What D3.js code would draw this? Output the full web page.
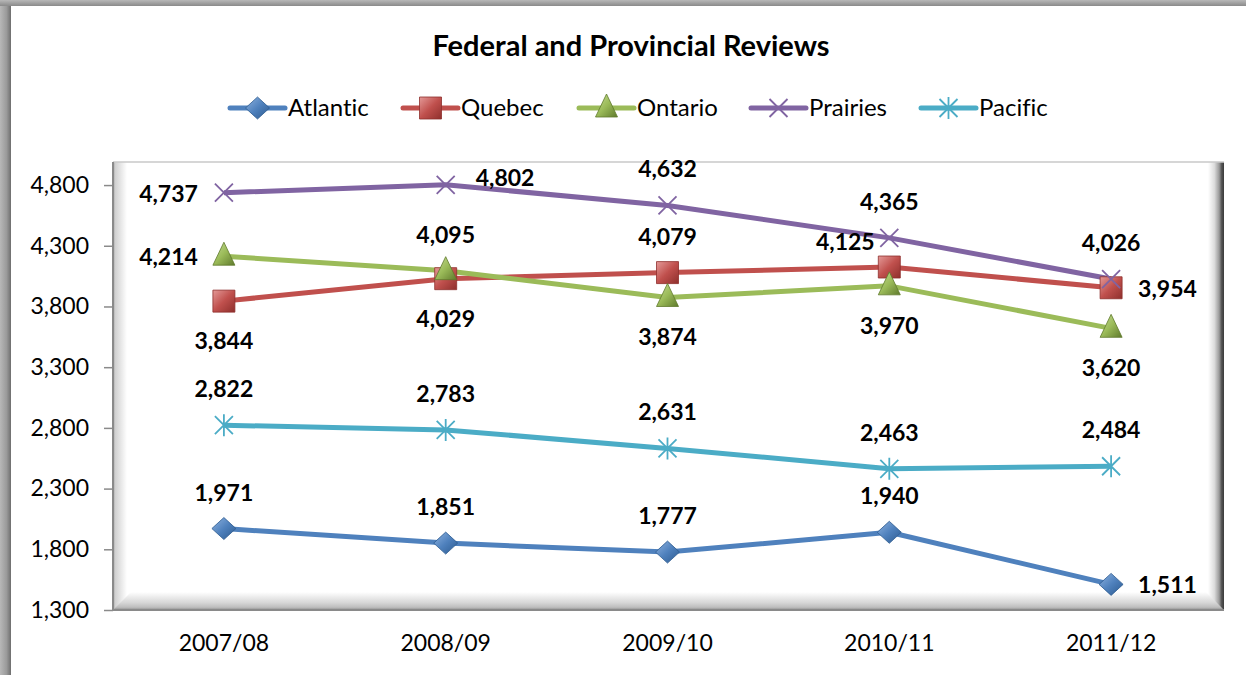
<!DOCTYPE html>
<html><head><meta charset="utf-8">
<script src="https://cdn.jsdelivr.net/npm/d3@7"></script>
<style>
html,body{margin:0;padding:0;background:#fff;}
svg{display:block;font-family:Lato,"Open Sans",sans-serif;font-variant-ligatures:none;}
text{font-variant-ligatures:none;font-feature-settings:"liga" 0,"clig" 0;}
</style></head>
<body><svg id="c" width="1246" height="675"></svg>
<script>
const categories = ["2007/08","2008/09","2009/10","2010/11","2011/12"];
const seriesNames = ["Atlantic","Quebec","Ontario","Prairies","Pacific"];
const atlantic = [1971,1851,1777,1940,1511];
const quebec   = [3844,4029,4079,4125,3954];
const ontario  = [4214,4095,3874,3970,3620];
const prairies = [4737,4802,4632,4365,4026];
const pacific  = [2822,2783,2631,2463,2484];
const yTicks = [1300,1800,2300,2800,3300,3800,4300,4800];
// label placement per point
const placeAtlantic = ["above","above","above","above","right"];
const placeQuebec   = ["below","below","above","aboveleft","right"];
const placeOntario  = ["left","above","below","below","below"];
const placePrairies = ["left","aboveright","above","above","above"];
const placePacific  = ["above","above","above","above","above"];

const colors = ["#4F81BD","#C0504D","#9BBB59","#8064A2","#4BACC6"];
const dark   = ["#2C5A8F","#8E2F2C","#5F7A2C","#5A427A","#2C8098"];
const light  = ["#8FB3E0","#E49A98","#C6DC97","#B3A0CC","#9ED6E5"];
const shapes = ["diamond","square","triangle","x","star"];

const series = seriesNames.map((n,i)=>({name:n, values:[atlantic,quebec,ontario,prairies,pacific][i],
  place:[placeAtlantic,placeQuebec,placeOntario,placePrairies,placePacific][i], color:colors[i], shape:shapes[i], idx:i}));

const svg = d3.select("#c");
const W=1246,H=675;
const L=113,R=1224,T=162,B=610;

const defs = svg.append("defs");
const gl = defs.append("linearGradient").attr("id","gLeft").attr("x1","0").attr("x2","1");
gl.append("stop").attr("offset","0").attr("stop-color","#b8b8b8");
gl.append("stop").attr("offset","0.6").attr("stop-color","#9a9a9a");
gl.append("stop").attr("offset","1").attr("stop-color","#6e6e6e");
const gt = defs.append("linearGradient").attr("id","gTop").attr("x1","0").attr("x2","0").attr("y1","0").attr("y2","1");
gt.append("stop").attr("offset","0").attr("stop-color","#b8b8b8");
gt.append("stop").attr("offset","1").attr("stop-color","#8a8a8a");
function lg(id,x1,y1,x2,y2,stops){const g=defs.append("linearGradient").attr("id",id).attr("x1",x1).attr("y1",y1).attr("x2",x2).attr("y2",y2);
  stops.forEach(s=>g.append("stop").attr("offset",s[0]).attr("stop-color",s[1]));}
lg("bLeft",0,0,1,0,[[0,"#9a9a9a"],[0.15,"#d0d0d0"],[1,"#ffffff"]]);
lg("bBottom",0,1,0,0,[[0,"#8c8c8c"],[0.15,"#bdbdbd"],[0.4,"#d6d6d6"],[1,"#ffffff"]]);
lg("bRight",1,0,0,0,[[0,"#3a3a3a"],[0.15,"#555"],[0.3,"#9a9a9a"],[0.6,"#dcdcdc"],[1,"#ffffff"]]);
colors.forEach((c,i)=>{
  const g=defs.append("linearGradient").attr("id","m"+i).attr("x1","0").attr("y1","0").attr("x2","1").attr("y2","1");
  g.append("stop").attr("offset","0").attr("stop-color",light[i]);
  g.append("stop").attr("offset","0.5").attr("stop-color",c);
  g.append("stop").attr("offset","1").attr("stop-color",dark[i]);
});

// outer chart border
svg.append("rect").attr("x",0).attr("y",0).attr("width",11).attr("height",H).attr("fill","url(#gLeft)");
svg.append("rect").attr("x",0).attr("y",0).attr("width",W).attr("height",6).attr("fill","url(#gTop)");
svg.append("rect").attr("x",11).attr("y",6).attr("width",W-11).attr("height",H-6).attr("fill","#fff");

// title
svg.append("text").attr("x",631).attr("y",56).attr("text-anchor","middle")
  .attr("font-size",29).attr("font-weight","bold").attr("fill","#000").text("Federal and Provincial Reviews");

// plot frame
svg.append("rect").attr("x",L).attr("y",T).attr("width",R-L).attr("height",B-T).attr("fill","#fff");
svg.append("rect").attr("x",L).attr("y",T).attr("width",14).attr("height",B-T).attr("fill","url(#bLeft)");
svg.append("rect").attr("x",R-16).attr("y",T).attr("width",16).attr("height",B-T).attr("fill","url(#bRight)");
svg.append("path").attr("d",`M${L},${B}L${L+18},${B-18}L${R-18},${B-18}L${R},${B}Z`).attr("fill","url(#bBottom)");
svg.append("line").attr("x1",L).attr("x2",R).attr("y1",T).attr("y2",T).attr("stroke","#c8c8c8").attr("stroke-width",1.5);
svg.append("line").attr("x1",L).attr("x2",L).attr("y1",T).attr("y2",B).attr("stroke","#8a8a8a").attr("stroke-width",2);
svg.append("line").attr("x1",L).attr("x2",R).attr("y1",B).attr("y2",B).attr("stroke","#8a8a8a").attr("stroke-width",2);

const x = d3.scaleBand().domain(categories).range([L,R-2]);
const cx = c => x(c)+x.bandwidth()/2;
const y = d3.scaleLinear().domain([1300,4990]).range([B,T]);

// y axis
const yAxis = svg.append("g").attr("transform",`translate(${L},0)`)
  .call(d3.axisLeft(y).tickValues(yTicks).tickFormat(d3.format(",")).tickSize(9).tickPadding(15));
yAxis.select(".domain").remove();
yAxis.selectAll(".tick line").attr("stroke","#8a8a8a").attr("stroke-width",1.5);
yAxis.selectAll("text").attr("font-size",23).attr("fill","#000").attr("font-family","Lato,sans-serif");

// x axis labels
const xAxis = svg.append("g").attr("transform",`translate(0,${B})`)
  .call(d3.axisBottom(x).tickSize(0).tickPadding(25));
xAxis.select(".domain").remove();
xAxis.selectAll("text").attr("font-size",23).attr("fill","#000").attr("font-family","Lato,sans-serif");

function markerPath(shape){
  switch(shape){
    case "diamond": return "M-12,0L0,-11L12,0L0,11Z";
    case "square": return "M-11,-11L11,-11L11,11L-11,11Z";
    case "triangle": return "M0,-14L11,9L-11,9Z";
    case "x": return "M-9,-9L9,9M-9,9L9,-9";
    case "star": return "M-9,-9L9,9M-9,9L9,-9M0,-11L0,11";
  }
}
function drawMarker(g,s,px,py){
  if(s.shape==="x"||s.shape==="star"){
    g.append("path").attr("d",markerPath(s.shape)).attr("transform",`translate(${px},${py})`)
      .attr("stroke",s.color).attr("stroke-width",1.8).attr("fill","none");
  } else {
    g.append("path").attr("d",markerPath(s.shape)).attr("transform",`translate(${px},${py})`)
      .attr("fill",`url(#m${s.idx})`).attr("stroke",dark[s.idx]).attr("stroke-width",0.8);
  }
}

const line = d3.line().x((d,i)=>cx(categories[i])).y(d=>y(d));
const plot = svg.append("g");
series.forEach(s=>{
  plot.append("path").datum(s.values).attr("d",line).attr("fill","none")
    .attr("stroke",s.color).attr("stroke-width",5).attr("stroke-linejoin","round");
});
series.forEach(s=>{
  s.values.forEach((v,i)=>drawMarker(plot,s,cx(categories[i]),y(v)));
});

// data labels
const fmt = d3.format(",");
const lab = svg.append("g").attr("font-size",23).attr("font-weight","bold").attr("fill","#000");
series.forEach(s=>{
  s.values.forEach((v,i)=>{
    const px=cx(categories[i]), py=y(v);
    let tx=px, ty=py, anchor="middle";
    switch(s.place[i]){
      case "above": ty=py-28; break;
      case "below": ty=py+48; break;
      case "left": tx=px-26; ty=py+9; anchor="end"; break;
      case "right": tx=px+27; ty=py+9; anchor="start"; break;
      case "aboveright": tx=px+30; ty=py+1; anchor="start"; break;
      case "aboveleft": tx=px-44; ty=py-17; break;
    }
    lab.append("text").attr("x",tx).attr("y",ty).attr("text-anchor",anchor).text(fmt(v));
  });
});

// legend
const legX = [230,403,579,751,921];
const leg = svg.append("g");
series.forEach((s,i)=>{
  const lx=legX[i], ly=108;
  leg.append("line").attr("x1",lx).attr("x2",lx+55).attr("y1",ly).attr("y2",ly)
    .attr("stroke",s.color).attr("stroke-width",5).attr("stroke-linecap","round");
  drawMarker(leg,s,lx+27.5,ly);
  leg.append("text").attr("x",lx+58).attr("y",ly+8).attr("font-size",24).attr("fill","#000").text(s.name);
});
</script></body></html>
